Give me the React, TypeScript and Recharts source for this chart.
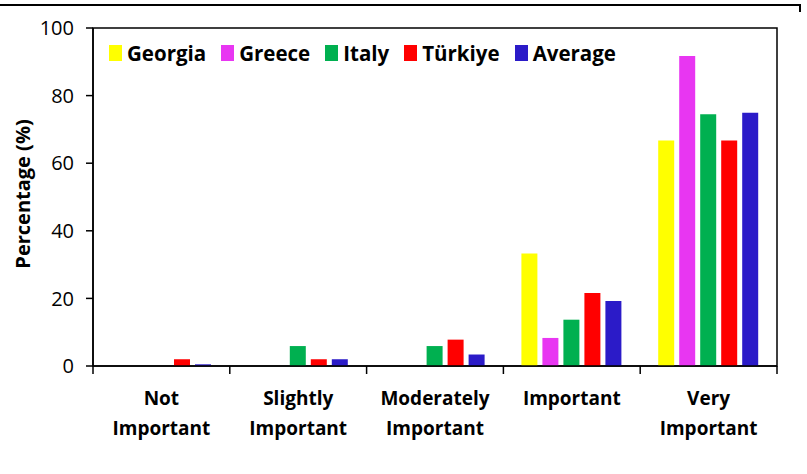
import React from 'react';
import { BarChart, Bar, XAxis, YAxis, Legend, ReferenceArea } from 'recharts';

const categories = ['Not\nImportant', 'Slightly\nImportant', 'Moderately\nImportant', 'Important', 'Very\nImportant'];
const georgia = [0, 0, 0, 33.3, 66.7];
const greece = [0, 0, 0, 8.3, 91.7];
const italy = [0, 5.9, 5.9, 13.7, 74.5];
const turkiye = [2, 2, 7.8, 21.6, 66.7];
const average = [0.5, 2, 3.4, 19.2, 74.9];
const yTicks = [0, 20, 40, 60, 80, 100];

const seriesNames = ['Georgia', 'Greece', 'Italy', 'Türkiye', 'Average'];
const seriesValues = [georgia, greece, italy, turkiye, average];
const seriesColors = ['#FFFF00', '#E836F2', '#00B050', '#FF0000', '#2B1BC8'];

const data = categories.map((c, i) => {
  const row: Record<string, string | number> = { category: c };
  seriesNames.forEach((n, j) => {
    row[n] = seriesValues[j][i];
  });
  return row;
});

const FONT = '"Open Sans", sans-serif';

function CatTick(props: any) {
  const { x, y, payload, index, visibleTicksCount } = props;
  const off = payload.offset || 0;
  const lines = String(payload.value).split('\n');
  const isLast = index === visibleTicksCount - 1;
  return (
    <g>
      <line x1={x - off} x2={x - off} y1={y} y2={y + 8} stroke="#000" strokeWidth={1.5} />
      {isLast && <line x1={x + off} x2={x + off} y1={y} y2={y + 8} stroke="#000" strokeWidth={1.5} />}
      {lines.map((l, i) => (
        <text key={i} x={x} y={y + 39 + i * 30} textAnchor="middle" fontSize={19} fontWeight="bold" fill="#000" fontFamily={FONT}>
          {l}
        </text>
      ))}
    </g>
  );
}

function LegendContent() {
  return (
    <div style={{ display: 'flex', alignItems: 'center', fontFamily: FONT, fontWeight: 'bold', fontSize: 20.5, color: '#000', whiteSpace: 'nowrap' }}>
      {seriesNames.map((n, j) => (
        <div key={n} style={{ display: 'flex', alignItems: 'center', marginRight: 15 }}>
          <span style={{ display: 'inline-block', width: 13, height: 16, background: seriesColors[j], marginRight: 5 }} />
          <span>{n}</span>
        </div>
      ))}
    </div>
  );
}

function YLabel(props: any) {
  const vb = props.viewBox || {};
  const cx = 22;
  const cy = vb.y + vb.height / 2 - 3;
  return (
    <text x={cx} y={cy} transform={`rotate(-90 ${cx} ${cy})`} textAnchor="middle" dominantBaseline="central" fontSize={20} fontWeight="bold" fill="#000" fontFamily={FONT}>
      Percentage (%)
    </text>
  );
}

export default function App() {
  return (
    <div style={{ position: 'absolute', left: 0, top: 0, width: 807, height: 474, background: '#fff' }}>
      <div style={{ position: 'absolute', left: 0, top: 4, width: 801, height: 2, background: '#000' }} />
      <div style={{ position: 'absolute', left: 799, top: 4, width: 2, height: 8, background: '#000' }} />
      <BarChart width={807} height={474} data={data} margin={{ top: 28, right: 30, bottom: 0, left: 0 }} barSize={16} barGap={5}>
        <XAxis
          dataKey="category"
          interval={0}
          height={108}
          tickLine={false}
          tickSize={0}
          tickMargin={0}
          tick={<CatTick />}
          axisLine={{ stroke: '#000', strokeWidth: 1.5 }}
        />
        <YAxis
          domain={[0, 100]}
          ticks={yTicks}
          width={93}
          tickSize={7}
          tickMargin={12}
          tick={{ fontSize: 20, fill: '#000', fontFamily: FONT }}
          tickLine={{ stroke: '#000', strokeWidth: 1.5 }}
          axisLine={{ stroke: '#000', strokeWidth: 1.5 }}
          label={<YLabel />}
        />
        <ReferenceArea y1={0} y2={100} fill="none" stroke="#000" strokeWidth={1.5} ifOverflow="visible" />
        <Legend
          layout="horizontal"
          verticalAlign="middle"
          align="center"
          wrapperStyle={{ top: 39, left: 109, width: 'auto' }}
          content={<LegendContent />}
        />
        {seriesNames.map((n, j) => (
          <Bar key={n} dataKey={n} fill={seriesColors[j]} isAnimationActive={false} />
        ))}
      </BarChart>
    </div>
  );
}
